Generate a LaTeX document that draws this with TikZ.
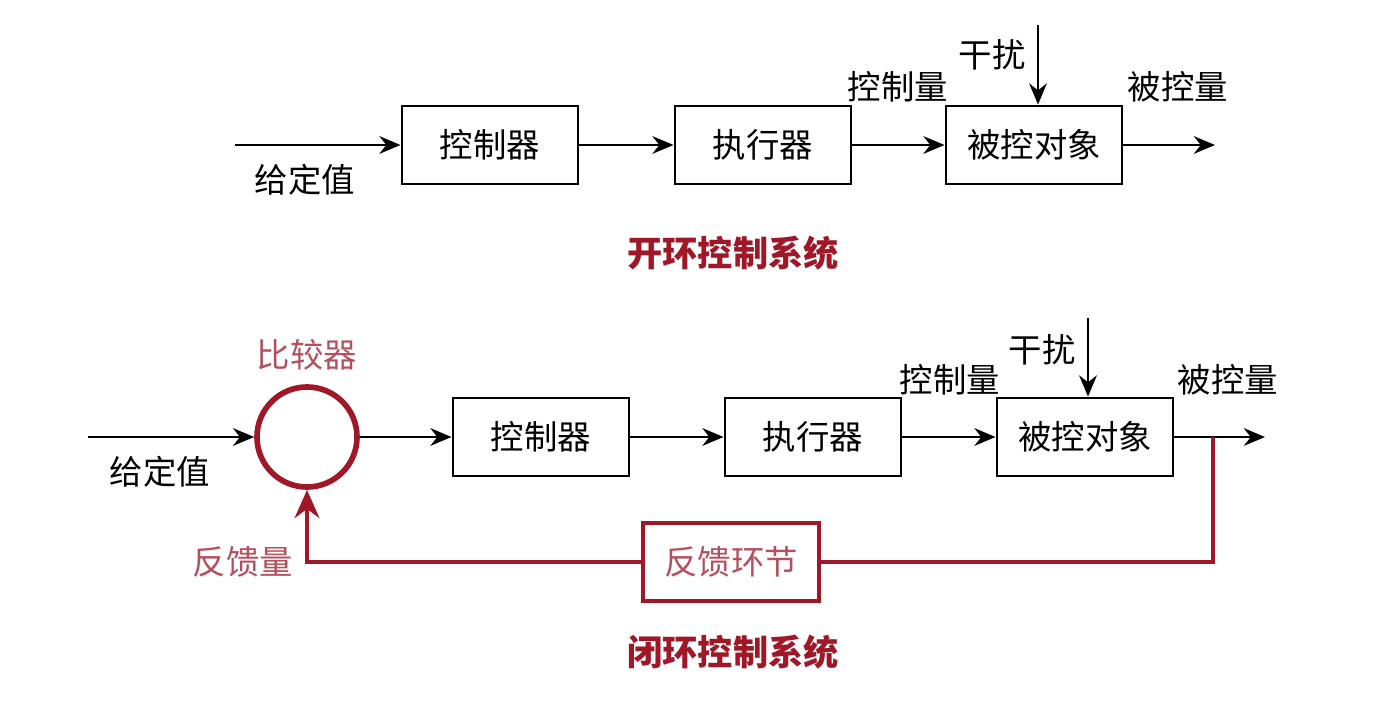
\documentclass[tikz,border=0pt]{standalone}
\usepackage{fontspec}
\setmainfont{Noto Sans CJK SC}
\usetikzlibrary{arrows.meta}
\definecolor{loopred}{HTML}{A01828}
\definecolor{softred}{HTML}{B4505E}

\begin{document}
\begin{tikzpicture}[x=0.01cm,y=-0.01cm,font=\fontsize{9.5}{11}\selectfont,
  block/.style={draw,line width=0.8pt,minimum width=1.76cm,minimum height=0.78cm},
  sig/.style={line width=0.8pt,-{Stealth[length=6pt,width=5pt]}},
  fb/.style={draw=loopred,line width=1.3pt},
  title/.style={text=loopred,font=\fontsize{10}{12}\selectfont\bfseries}]

\useasboundingbox (0,0) rectangle (1388,706);

% open loop
\coordinate (in1) at (235,145);
\node[block] (ctrl1) at (490,145) {控制器};
\node[block] (act1) at (763,145) {执行器};
\node[block] (plant1) at (1034,145) {被控对象};
\coordinate (out1) at (1215,145);
\coordinate (dist1) at (1038,25);
\draw[sig] (in1) -- (ctrl1);
\draw[sig] (ctrl1) -- (act1);
\draw[sig] (act1) -- (plant1);
\draw[sig] (plant1) -- (out1);
\draw[sig] (dist1) -- (dist1 |- plant1.north);
\node (ref1) at (305,180) {给定值};
\node (u1) at (898,87) {控制量};
\node (d1) at (992,55) {干扰};
\node (y1) at (1178,87) {被控量};
\node[title] (t1) at (733,253) {开环控制系统};

% closed loop
\coordinate (in2) at (88,437);
\node[circle,draw=loopred,line width=1.6pt,minimum size=1cm] (cmp) at (307,437) {};
\node[block] (ctrl2) at (541,437) {控制器};
\node[block] (act2) at (813,437) {执行器};
\node[block] (plant2) at (1085,437) {被控对象};
\coordinate (out2) at (1265,437);
\coordinate (tap) at (1213,437);
\coordinate (dist2) at (1088,318);
\node[block,draw=loopred,line width=1.3pt,text=softred] (fbk) at (731,562) {反馈环节};
\draw[sig] (in2) -- (cmp);
\draw[sig] (cmp) -- (ctrl2);
\draw[sig] (ctrl2) -- (act2);
\draw[sig] (act2) -- (plant2);
\draw[sig] (plant2) -- (out2);
\draw[sig] (dist2) -- (dist2 |- plant2.north);
\draw[fb] (tap) |- (fbk);
\draw[fb,-{Stealth[length=8pt,width=7pt]}] (fbk) -| (cmp);
\node (ref2) at (160,472) {给定值};
\node[text=softred] (cmpl) at (307,355) {比较器};
\node[text=softred] (fbl) at (243,562) {反馈量};
\node (u2) at (950,380) {控制量};
\node (d2) at (1042,350) {干扰};
\node (y2) at (1228,380) {被控量};
\node[title] (t2) at (733,652) {闭环控制系统};
\end{tikzpicture}
\end{document}
